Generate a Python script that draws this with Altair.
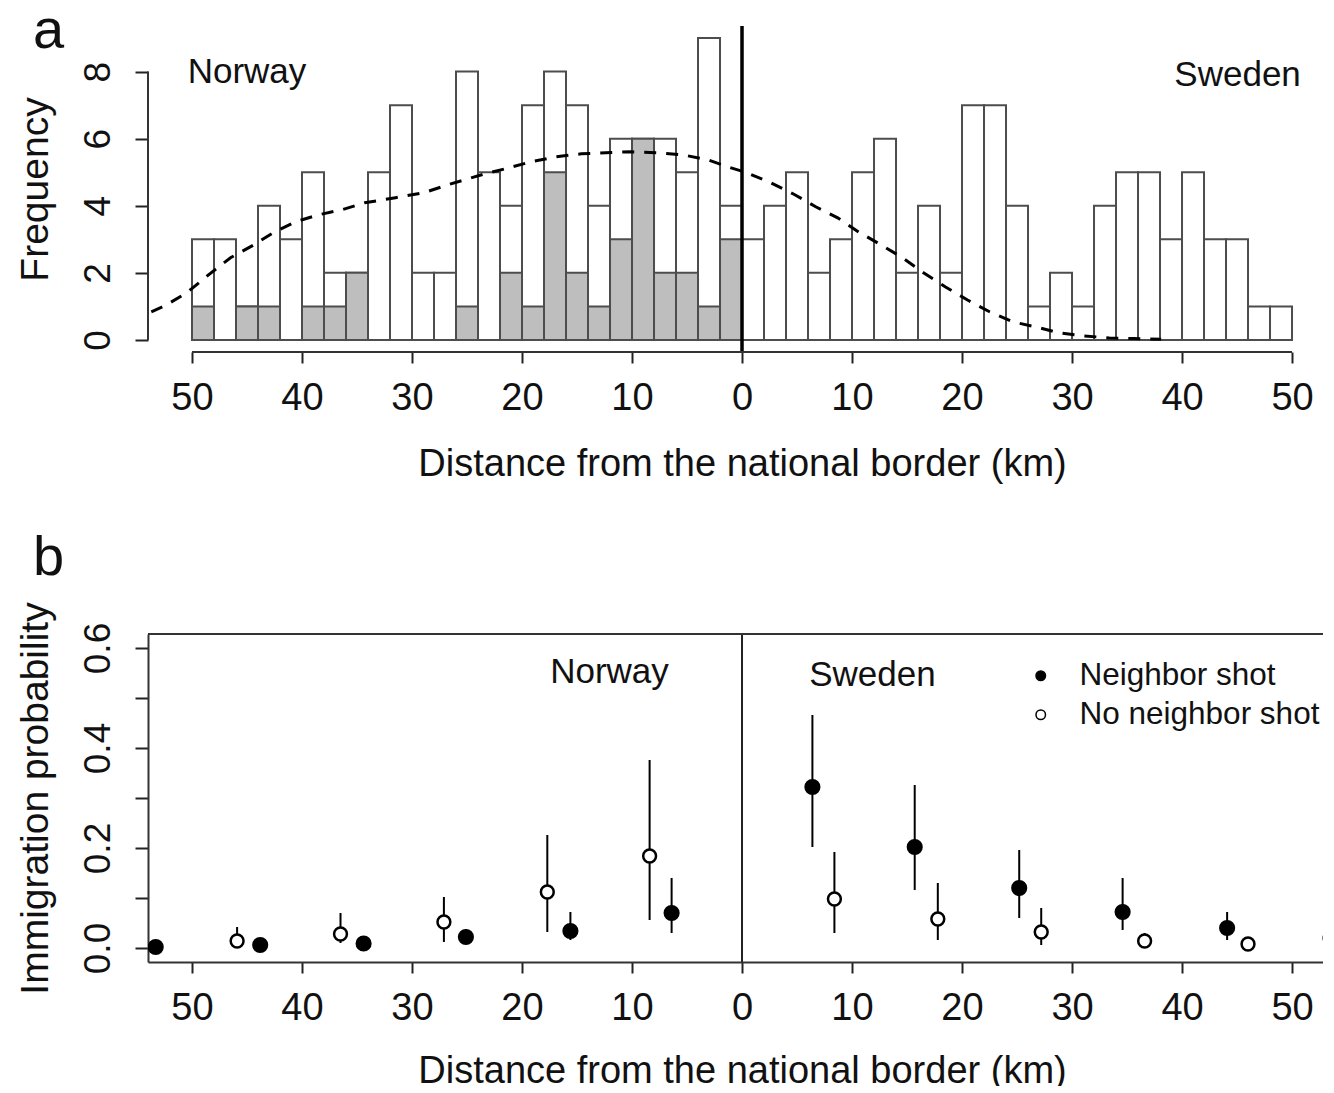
import altair as alt
import pandas as pd

FONT = "Liberation Sans"

# ---------------- panel a : histogram of distances ----------------
bin_left = list(range(-50, 50, 2))
total_counts = [3, 3, 1, 4, 3, 5, 2, 2, 5, 7, 2, 2, 8, 5, 4, 7, 8, 7, 4, 6, 6, 6, 5, 9, 4,
                3, 4, 5, 2, 3, 5, 6, 2, 4, 2, 7, 7, 4, 1, 2, 1, 4, 5, 5, 3, 5, 3, 3, 1, 1]
shot_counts = [1, 0, 1, 1, 0, 1, 1, 2, 0, 0, 0, 0, 1, 0, 2, 1, 5, 2, 1, 3, 6, 2, 2, 1, 3,
               0, 0, 0, 0, 0, 0, 0, 0, 0, 0, 0, 0, 0, 0, 0, 0, 0, 0, 0, 0, 0, 0, 0, 0, 0]
bin_width = 2

density_x = [-53.7, -52.5, -50.5, -48.5, -46.5, -44.5, -42.5, -40.6, -38.5, -36.4, -34.3,
             -31.5, -28.9, -26.7, -23.3, -21.2, -19.2, -16.9, -14.6, -12.4, -10.1, -7.6,
             -5.4, -3.1, -1.3, 0.4, 2.6, 4.8, 6.7, 8.7, 10.6, 12.6, 14.6, 16.5, 18.5, 20.5,
             22.5, 24.6, 26.7, 28.8, 31.1, 33.4, 35.6, 38.1]
density_y = [0.84, 1.01, 1.40, 1.94, 2.45, 2.81, 3.22, 3.52, 3.73, 3.88, 4.09, 4.24, 4.39,
             4.63, 4.96, 5.13, 5.31, 5.46, 5.55, 5.58, 5.61, 5.58, 5.52, 5.37, 5.16, 4.99,
             4.69, 4.33, 3.97, 3.64, 3.22, 2.84, 2.45, 2.00, 1.58, 1.19, 0.84, 0.54, 0.39,
             0.21, 0.12, 0.06, 0.04, 0.02]

country_labels = ["Norway", "Sweden"]
label_x_a = [-45.0, 45.05]
label_y_a = [8.0, 7.9]

# ---------------- panel b : immigration probability ----------------
groups = ["Neighbor shot", "No neighbor shot"]
shot_x = [-53.3, -43.8, -34.4, -25.1, -15.6, -6.4, 6.4, 15.7, 25.2, 34.6, 44.1, 53.5]
shot_p = [0.002, 0.006, 0.009, 0.022, 0.034, 0.070, 0.322, 0.202, 0.120, 0.072, 0.040, 0.020]
shot_lo = [0.000, 0.001, 0.003, 0.010, 0.016, 0.030, 0.202, 0.116, 0.060, 0.036, 0.016, 0.010]
shot_hi = [0.008, 0.014, 0.020, 0.038, 0.072, 0.140, 0.466, 0.326, 0.196, 0.140, 0.072, 0.040]

noshot_x = [-45.9, -36.5, -27.1, -17.7, -8.4, 8.4, 17.8, 27.2, 36.6, 46.0]
noshot_p = [0.014, 0.028, 0.052, 0.112, 0.184, 0.098, 0.058, 0.032, 0.014, 0.008]
noshot_lo = [0.004, 0.010, 0.012, 0.032, 0.056, 0.030, 0.016, 0.006, 0.005, 0.003]
noshot_hi = [0.042, 0.070, 0.102, 0.226, 0.376, 0.192, 0.130, 0.080, 0.030, 0.020]

label_x_b = [-12.05, 11.86]
label_y_b = [0.552, 0.546]

x_ticks = [-50, -40, -30, -20, -10, 0, 10, 20, 30, 40, 50]
y_ticks_a = [0, 2, 4, 6, 8]
y_ticks_b = [0.0, 0.1, 0.2, 0.3, 0.4, 0.5, 0.6]

X_DOMAIN = [-54, 53.18]
YA_DOMAIN = [-0.36, 9.36]
YB_DOMAIN = [-0.028, 0.628]
W = 1179
HA = 326
HB = 328

# ---------------- data tables ----------------
hist = pd.DataFrame({
    "left": bin_left,
    "right": [b + bin_width for b in bin_left],
    "total": total_counts,
    "shot": shot_counts,
    "base": [0] * len(bin_left),
})
dens = pd.DataFrame({"x": density_x, "y": density_y})
lab_a = pd.DataFrame({"x": label_x_a, "y": label_y_a, "t": country_labels})
lab_b = pd.DataFrame({"x": label_x_b, "y": label_y_b, "t": country_labels})

pts = pd.DataFrame({
    "x": shot_x + noshot_x,
    "p": shot_p + noshot_p,
    "lo": shot_lo + noshot_lo,
    "hi": shot_hi + noshot_hi,
    "group": [groups[0]] * len(shot_x) + [groups[1]] * len(noshot_x),
})

# ---------------- scales & axes ----------------
xs = alt.Scale(domain=X_DOMAIN, nice=False, zero=False)
ysa = alt.Scale(domain=YA_DOMAIN, nice=False, zero=False)
ysb = alt.Scale(domain=YB_DOMAIN, nice=False, zero=False)

common_axis = dict(labelFont=FONT, titleFont=FONT, labelColor="#111", titleColor="#111",
                   tickColor="#222", tickWidth=2, grid=False, titleFontWeight="normal")
X_TITLE_X = (0 - X_DOMAIN[0]) / (X_DOMAIN[1] - X_DOMAIN[0]) * W

xaxis_a = alt.Axis(values=x_ticks, labelExpr="format(abs(datum.value), 'd')", domain=False,
                   tickSize=11, labelFontSize=38, labelPadding=16, labelBaseline="top",
                   title="Distance from the national border (km)", titleFontSize=38,
                   titlePadding=28, titleX=X_TITLE_X, **common_axis)
xaxis_b = alt.Axis(values=x_ticks, labelExpr="format(abs(datum.value), 'd')", domain=True,
                   domainColor="#333", domainWidth=2,
                   tickSize=11, labelFontSize=38, labelPadding=16, labelBaseline="top",
                   title="Distance from the national border (km)", titleFontSize=38,
                   titlePadding=25, titleX=X_TITLE_X, **common_axis)
yaxis_a = alt.Axis(values=y_ticks_a, domain=False, tickSize=13, labelAngle=270,
                   labelAlign="center", labelBaseline="alphabetic", labelPadding=26,
                   labelFontSize=37, title="Frequency", titleFontSize=39, titleAngle=270,
                   titleAlign="center", titleBaseline="alphabetic", titleX=-101, titleY=HA / 2,
                   **common_axis)
yaxis_b = alt.Axis(values=y_ticks_b, domain=True, domainColor="#333", domainWidth=2,
                   tickSize=13, labelAngle=270, labelAlign="center",
                   labelBaseline="alphabetic", labelPadding=26, labelFontSize=37,
                   labelExpr="round(datum.value*10) % 2 == 0 ? format(datum.value, '.1f') : ''",
                   title="Immigration probability", titleFontSize=39, titleAngle=270,
                   titleAlign="center", titleBaseline="alphabetic", titleX=-101, titleY=HB / 2,
                   **common_axis)


def XA(f):
    return alt.X(f, type="quantitative", scale=xs, axis=xaxis_a)


def YA(f):
    return alt.Y(f, type="quantitative", scale=ysa, axis=yaxis_a)


def XB(f):
    return alt.X(f, type="quantitative", scale=xs, axis=xaxis_b)


def YB(f):
    return alt.Y(f, type="quantitative", scale=ysb, axis=yaxis_b)


no_frame = alt.ViewBackground(stroke="transparent", strokeWidth=0, fill="white")

# ---------------- panel a ----------------
bars_total = alt.Chart(hist).mark_rect(fill="white", stroke="#4d4d4d", strokeWidth=2).encode(
    x=XA("left"), x2="right", y=YA("base"), y2="total")
bars_shot = alt.Chart(hist).transform_filter("datum.shot > 0").mark_rect(
    fill="#bebebe", stroke="#4d4d4d", strokeWidth=2).encode(
    x=XA("left"), x2="right", y=YA("base"), y2="shot")
dens_line = alt.Chart(dens).mark_line(color="black", strokeWidth=3, strokeDash=[12, 10]).encode(
    x=XA("x"), y=YA("y"))
border_a = alt.Chart(pd.DataFrame({"x": [0]})).mark_rule(color="black", strokeWidth=3.5).encode(
    x=XA("x"))
xline_a = alt.Chart(pd.DataFrame({"x": [x_ticks[0]], "x2": [x_ticks[-1]], "y": [YA_DOMAIN[0]]})).mark_rule(
    color="#333", strokeWidth=2).encode(x=XA("x"), x2="x2", y=YA("y"))
yline_a = alt.Chart(pd.DataFrame({"x": [X_DOMAIN[0]], "y": [y_ticks_a[0]], "y2": [y_ticks_a[-1]]})).mark_rule(
    color="#333", strokeWidth=2).encode(x=XA("x"), y=YA("y"), y2="y2")
text_a = alt.Chart(lab_a).mark_text(font=FONT, fontSize=35, color="#111", align="center",
                                    baseline="middle").encode(x=XA("x"), y=YA("y"), text="t")
letter_a = alt.Chart(pd.DataFrame({"t": ["a"]})).mark_text(
    font=FONT, fontSize=56, color="#111", align="left", baseline="alphabetic").encode(
    x=alt.value(-115), y=alt.value(22), text="t")

panel_a = alt.layer(bars_total, bars_shot, dens_line, border_a, xline_a, yline_a, text_a,
                    letter_a).properties(width=W, height=HA, view=no_frame)

# ---------------- panel b ----------------
fill_enc = alt.Fill("group:N", scale=alt.Scale(domain=groups, range=["black", "white"]),
                    legend=alt.Legend(title=None, orient="none", legendX=877, legendY=26,
                                      labelFontSize=31.5, labelFont=FONT, labelColor="#111",
                                      labelLimit=0, symbolSize=90, symbolStrokeColor="black",
                                      symbolStrokeWidth=1.5, symbolType="circle",
                                      labelOffset=23, rowPadding=6, padding=0))

border_b = alt.Chart(pd.DataFrame({"x": [0]})).mark_rule(color="#222", strokeWidth=2).encode(
    x=XB("x"))
top_b = alt.Chart(pd.DataFrame({"y": [YB_DOMAIN[1]]})).mark_rule(color="#333", strokeWidth=2).encode(
    y=YB("y"))
err = alt.Chart(pts).mark_rule(color="black", strokeWidth=2).encode(
    x=XB("x"), y=YB("lo"), y2="hi")
pts_shot = alt.Chart(pts).transform_filter(alt.datum.group == groups[0]).mark_point(
    shape="circle", filled=True, stroke="black", strokeWidth=2, opacity=1, size=200,
    clip=True).encode(x=XB("x"), y=YB("p"), fill=fill_enc)
pts_noshot = alt.Chart(pts).transform_filter(alt.datum.group == groups[1]).mark_point(
    shape="circle", filled=True, stroke="black", strokeWidth=2.5, opacity=1, size=165,
    clip=True).encode(x=XB("x"), y=YB("p"), fill=fill_enc)
text_b = alt.Chart(lab_b).mark_text(font=FONT, fontSize=35, color="#111", align="center",
                                    baseline="middle").encode(x=XB("x"), y=YB("y"), text="t")
letter_b = alt.Chart(pd.DataFrame({"t": ["b"]})).mark_text(
    font=FONT, fontSize=56, color="#111", align="left", baseline="alphabetic").encode(
    x=alt.value(-115), y=alt.value(-59), text="t")

panel_b = alt.layer(border_b, top_b, err, pts_shot, pts_noshot, text_b, letter_b).properties(
    width=W, height=HB, view=no_frame)

chart = alt.vconcat(panel_a, panel_b, spacing=47).resolve_legend(fill="independent").properties(
    padding={"left": 7, "top": -5, "right": -9, "bottom": -4},
    background="white",
).configure_view(stroke="transparent", strokeWidth=0).configure(font=FONT)

chart.save("out.html", embed_options={"renderer": "svg", "actions": False})
